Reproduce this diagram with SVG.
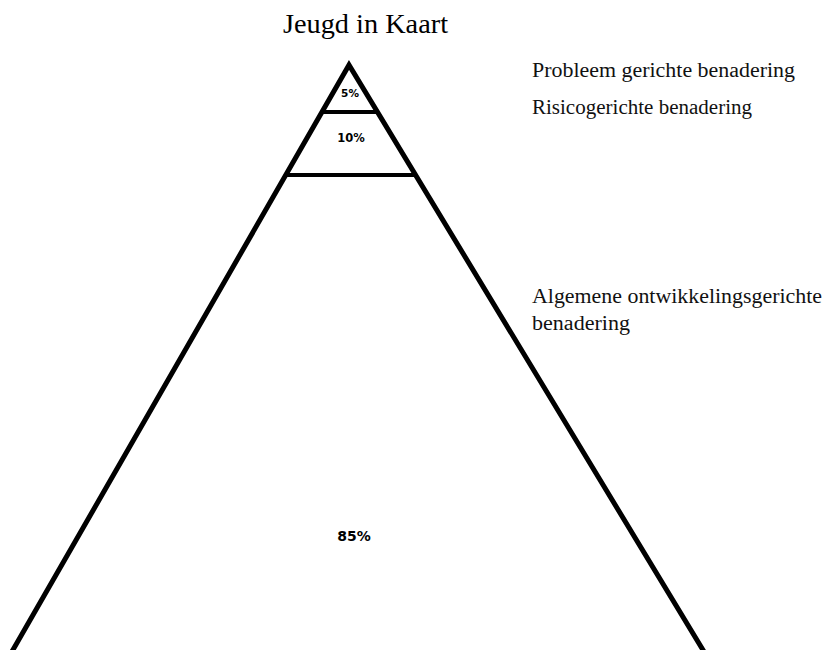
<svg xmlns="http://www.w3.org/2000/svg" width="826" height="650" viewBox="0 0 826 650">
<style>
.edge{stroke:#000;fill:none;stroke-linecap:butt;stroke-linejoin:miter}
.side{stroke-width:5}
.div{stroke-width:4}
.pct{font-weight:bold;fill:#000;text-anchor:middle}
</style>
<rect width="826" height="650" fill="#fff"/>
<g id="title"><text x="283" y="33" font-family="Liberation Serif, serif" font-size="28" fill="#000" textLength="165" lengthAdjust="spacingAndGlyphs">Jeugd in Kaart</text></g>
<g id="connectors">
<polyline class="edge side" points="10,655 349,65 706,655"/>
<line class="edge div" x1="321" y1="112" x2="378" y2="112"/>
<line class="edge div" x1="286" y1="175" x2="416" y2="175"/>
</g>
<g id="tier-top"><text class="pct" font-family="DejaVu Sans, sans-serif" x="350" y="97" font-size="10.5">5%</text></g>
<g id="tier-middle"><text class="pct" font-family="DejaVu Sans, sans-serif" x="351" y="142" font-size="11.5">10%</text></g>
<g id="tier-bottom"><text class="pct" font-family="DejaVu Sans, sans-serif" x="354" y="541" font-size="14">85%</text></g>
<g id="label-top"><text font-family="Liberation Serif, serif" font-size="20" fill="#111" x="532" y="77" textLength="263" lengthAdjust="spacingAndGlyphs">Probleem gerichte benadering</text></g>
<g id="label-middle"><text font-family="Liberation Serif, serif" font-size="20" fill="#111" x="532" y="114" textLength="220" lengthAdjust="spacingAndGlyphs">Risicogerichte benadering</text></g>
<g id="label-bottom">
<text font-family="Liberation Serif, serif" font-size="20" fill="#111" x="532" y="303" textLength="290" lengthAdjust="spacingAndGlyphs">Algemene ontwikkelingsgerichte</text>
<text font-family="Liberation Serif, serif" font-size="20" fill="#111" x="532" y="330" textLength="98" lengthAdjust="spacingAndGlyphs">benadering</text>
</g>
</svg>
